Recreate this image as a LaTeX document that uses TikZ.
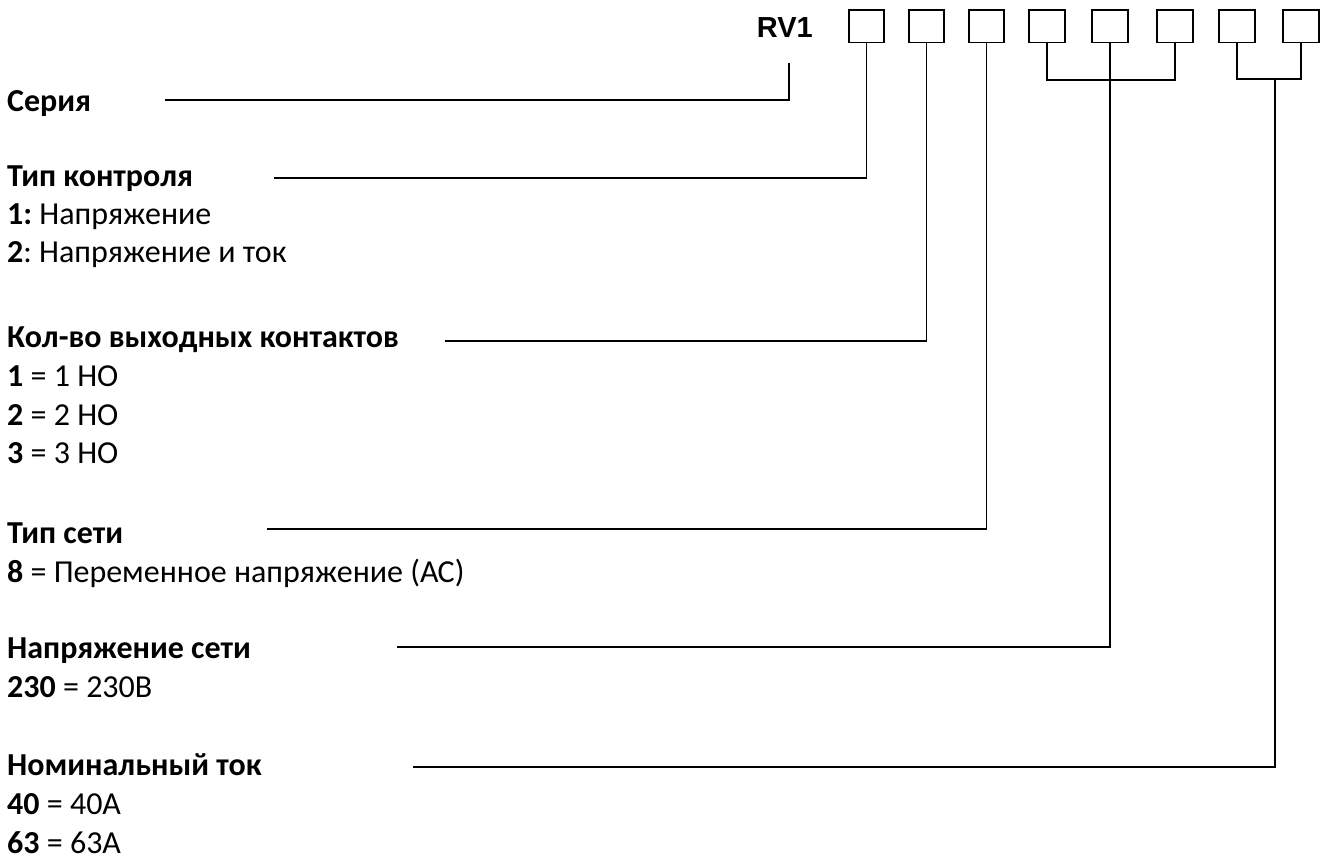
\documentclass[tikz,border=0pt]{standalone}
\usepackage{fontspec}
\setmainfont{Carlito}
\newfontfamily\arialfont{Liberation Sans}
\frenchspacing

\begin{document}
\begin{tikzpicture}[x=1pt,y=-1pt,
  cell/.style={draw,line width=1.6pt,minimum width=35.5pt,minimum height=32.5pt,inner sep=0pt},
  lead/.style={line width=1.4pt},
  txt/.style={anchor=base west,inner sep=0pt,font=\fontsize{32}{38}\selectfont}]
\useasboundingbox (0,0) rectangle (1325,861);

\node[anchor=base east,inner sep=0pt,font=\arialfont\bfseries\fontsize{29}{34}\selectfont] (rv) at (813,38) {RV1};

\foreach \i/\x in {1/866.5,2/926.5,3/986.5,4/1047,5/1110,6/1175,7/1237,8/1301}{
	\node[cell] (b\i) at (\x,26.3) {};
	}

\node[txt] (ser) at (7,112) {\bfseries Серия};

\node[txt] (ctrl) at (7,187) {\bfseries Тип контроля};
\node[txt] (ctrl1) at (7,225) {\textbf{1:} Напряжение};
\node[txt] (ctrl2) at (7,262) {\textbf{2}: Напряжение и ток};

\node[txt] (cnt) at (7,347) {\bfseries Кол-во выходных контактов};
\node[txt] (cnt1) at (7,386) {\textbf{1} = 1 НО};
\node[txt] (cnt2) at (7,425) {\textbf{2} = 2 НО};
\node[txt] (cnt3) at (7,463) {\textbf{3} = 3 НО};

\node[txt] (net) at (7,543) {\bfseries Тип сети};
\node[txt] (net8) at (7,582) {\textbf{8} = Переменное напряжение (АС)};

\node[txt] (volt) at (7,658) {\bfseries Напряжение сети};
\node[txt] (volt230) at (7,697) {\textbf{230} = 230В};

\node[txt] (cur) at (7,775) {\bfseries Номинальный ток};
\node[txt] (cur40) at (7,814) {\textbf{40} = 40А};
\node[txt] (cur63) at (7,853) {\textbf{63} = 63А};

\coordinate (rv-t) at (789,63);
\coordinate (k1) at (1110,80);
\coordinate (k2) at (1275,79);
\coordinate (ser-e) at (165,100);
\coordinate (ctrl-e) at (274,178);
\coordinate (cnt-e) at (445,341);
\coordinate (net-e) at (267,529);
\coordinate (volt-e) at (397,647);
\coordinate (cur-e) at (413,767);

\draw[lead] (ser-e) -| (rv-t);
\draw[lead] (ctrl-e) -| (b1.south);
\draw[lead] (cnt-e) -| (b2.south);
\draw[lead] (net-e) -| (b3.south);
\draw[lead] (b4.south) |- (k1) -| (b6.south);
\draw[lead] (volt-e) -| (b5.south);
\draw[lead] (b7.south) |- (k2) -| (b8.south);
\draw[lead] (cur-e) -| (k2);
\end{tikzpicture}
\end{document}
